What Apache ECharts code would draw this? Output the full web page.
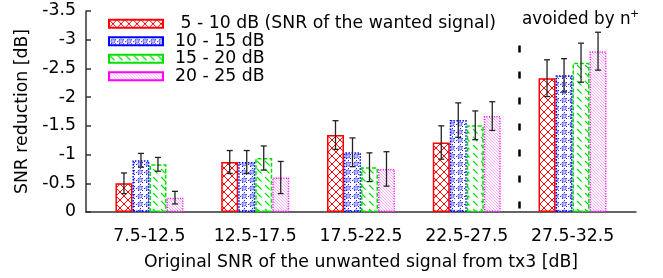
<!DOCTYPE html>
<html>
<head>
<meta charset="utf-8">
<script src="https://cdn.jsdelivr.net/npm/echarts@6/dist/echarts.min.js"></script>
<style>
html, body { margin: 0; padding: 0; background: #fff; }
#chart { width: 663px; height: 278px; }
</style>
</head>
<body>
<div id="chart"></div>
<script>
// data
const categories = ['7.5-12.5', '12.5-17.5', '17.5-22.5', '22.5-27.5', '27.5-32.5'];
const seriesNames = [' 5 - 10 dB (SNR of the wanted signal)', '10 - 15 dB', '15 - 20 dB', '20 - 25 dB'];
const snr5to10 = [-0.50, -0.87, -1.34, -1.21, -2.33];
const snr10to15 = [-0.90, -0.87, -1.04, -1.60, -2.38];
const snr15to20 = [-0.83, -0.94, -0.78, -1.51, -2.60];
const snr20to25 = [-0.25, -0.60, -0.75, -1.67, -2.80];
const err5to10 = [0.18, 0.20, 0.25, 0.29, 0.32];
const err10to15 = [0.12, 0.20, 0.25, 0.30, 0.29];
const err15to20 = [0.12, 0.21, 0.25, 0.25, 0.34];
const err20to25 = [0.11, 0.28, 0.30, 0.25, 0.33];
const yTicks = [-3.5, -3, -2.5, -2, -1.5, -1, -0.5, 0];
const xTicks = [0, 1, 2, 3, 4];
const dividerAt = 3.5;
const dividerTop = -2.9;

const values = [snr5to10, snr10to15, snr15to20, snr20to25];
const errs = [err5to10, err10to15, err15to20, err20to25];

const font = '"DejaVu Sans"';
const fontSize = 17.3;

// small canvas tiles for the gnuplot-like fill patterns
function tile(w, h, draw) {
  const c = document.createElement('canvas');
  c.width = w;
  c.height = h;
  const ctx = c.getContext('2d');
  ctx.fillStyle = '#fff';
  ctx.fillRect(0, 0, w, h);
  draw(ctx, w, h);
  return { image: c, repeat: 'repeat' };
}
function diag(ctx, w, h, back) {
  ctx.beginPath();
  for (let k = -1; k <= 1; k++) {
    if (back) { ctx.moveTo(k * w, 0); ctx.lineTo(k * w + w, h); }
    else { ctx.moveTo(k * w + w, 0); ctx.lineTo(k * w, h); }
  }
  ctx.stroke();
}

const redFill = tile(8, 8, (ctx, w, h) => {
  ctx.strokeStyle = '#ff0000';
  ctx.lineWidth = 1;
  diag(ctx, w, h, true);
  diag(ctx, w, h, false);
});
const blueFill = tile(8, 8, (ctx, w, h) => {
  ctx.fillStyle = '#2222ff';
  for (let i = 0; i < 8; i += 2) {
    ctx.fillRect(i, (4 - i + 8) % 8, 1, 1);
    ctx.fillRect(i, (4 + i) % 8, 1, 1);
  }
  ctx.strokeStyle = '#4444ff';
  ctx.lineWidth = 0.9;
  ctx.beginPath();
  ctx.arc(4, 4, 2, 0, Math.PI * 2);
  ctx.stroke();
  ctx.fillStyle = '#0000ff';
  ctx.fillRect(3.5, 3.5, 1, 1);
});
const greenFill = tile(8, 8, (ctx, w, h) => {
  ctx.strokeStyle = '#00e000';
  ctx.lineWidth = 1.1;
  ctx.beginPath();
  ctx.moveTo(1, 1);
  ctx.lineTo(5.5, 5.5);
  ctx.stroke();
});
const pinkFill = tile(3, 3, (ctx, w, h) => {
  ctx.strokeStyle = '#ff99ff';
  ctx.lineWidth = 0.8;
  diag(ctx, w, h, true);
});

const barColors = ['#ff0000', '#0000ff', '#00e000', '#ff00ff'];
const fills = [redFill, blueFill, greenFill, pinkFill];
const borderTypes = ['solid', [1.5, 1.5], [4, 2], [1, 1.5]];

const series = values.map((vals, k) => ({
  name: seriesNames[k],
  type: 'bar',
  barWidth: 17,
  barGap: '0%',
  data: vals.map((v, i) => [xTicks[i], v]),
  itemStyle: {
    color: fills[k],
    borderColor: barColors[k],
    borderWidth: 1.5,
    borderType: borderTypes[k]
  },
  emphasis: { disabled: true }
}));

// dashed divider before the last group
series.push({
  type: 'line',
  data: [],
  silent: true,
  markLine: {
    silent: true,
    symbol: 'none',
    label: { show: false },
    lineStyle: { color: '#000', width: 2.5, type: [7, 19] },
    data: [[{ coord: [dividerAt, dividerTop] }, { coord: [dividerAt, 0] }]]
  }
});

// error bars
const errData = [];
values.forEach((vals, k) => {
  vals.forEach((v, i) => errData.push([xTicks[i], v - errs[k][i], v + errs[k][i], k]));
});
series.push({
  type: 'custom',
  silent: true,
  z: 5,
  data: errData,
  encode: { x: 0, y: [1, 2] },
  renderItem(params, api) {
    const off = (api.value(3) - 1.5) * 17;
    const a = api.coord([api.value(0), api.value(1)]);
    const b = api.coord([api.value(0), api.value(2)]);
    const x = a[0] + off;
    const style = { stroke: '#222', lineWidth: 1.3 };
    return {
      type: 'group',
      children: [
        { type: 'line', shape: { x1: x, y1: a[1], x2: x, y2: b[1] }, style },
        { type: 'line', shape: { x1: x - 3, y1: a[1], x2: x + 3, y2: a[1] }, style },
        { type: 'line', shape: { x1: x - 3, y1: b[1], x2: x + 3, y2: b[1] }, style }
      ]
    };
  }
});

const myChart = echarts.init(document.getElementById('chart'));
const option = {
  animation: false,
  backgroundColor: '#fff',
  grid: { left: 86, right: 27, top: 11, bottom: 66, outerBoundsMode: 'none' },
  legend: {
    data: seriesNames,
    orient: 'vertical',
    left: 108,
    top: 15,
    padding: 0,
    icon: 'rect',
    itemWidth: 54,
    itemHeight: 8,
    itemGap: 0,
    selectedMode: false,
    textStyle: { fontFamily: font, fontSize: fontSize, color: '#000', padding: [0, 0, 0, 7], lineHeight: 17.5 }
  },
  xAxis: {
    type: 'value',
    min: -0.6,
    max: 4.6,
    name: 'Original SNR of the unwanted signal from tx3 [dB]',
    nameLocation: 'middle',
    nameGap: 42.5,
    nameTextStyle: { fontFamily: font, fontSize: fontSize, color: '#000' },
    axisLine: { show: true, onZero: false, lineStyle: { color: '#333', width: 1.5 } },
    axisTick: { show: false },
    splitLine: { show: false },
    axisLabel: {
      customValues: xTicks,
      formatter: v => categories[Math.round(v)],
      margin: 16,
      fontFamily: font,
      fontSize: fontSize,
      color: '#000'
    }
  },
  yAxis: {
    type: 'value',
    inverse: true,
    min: -3.5,
    max: 0,
    interval: 0.5,
    name: 'SNR reduction [dB]',
    nameLocation: 'middle',
    nameGap: 53,
    nameTextStyle: { fontFamily: font, fontSize: fontSize, color: '#000' },
    axisLine: { show: true, onZero: false, lineStyle: { color: '#333', width: 1.5 } },
    axisTick: { show: true, inside: true, length: 5, customValues: yTicks, lineStyle: { color: '#333', width: 1.5 } },
    splitLine: { show: false },
    axisLabel: { customValues: yTicks, margin: 10, fontFamily: font, fontSize: fontSize, color: '#000' }
  },
  graphic: [
    { type: 'text', left: 522, top: 11, style: { text: 'avoided by n', font: '16.8px ' + font, fill: '#000' } },
    { type: 'text', left: 630, top: 9, style: { text: '+', font: '11px ' + font, fill: '#000' } }
  ],
  series: series
};
myChart.setOption(option);
window.onresize = myChart.resize;
</script>
</body>
</html>
